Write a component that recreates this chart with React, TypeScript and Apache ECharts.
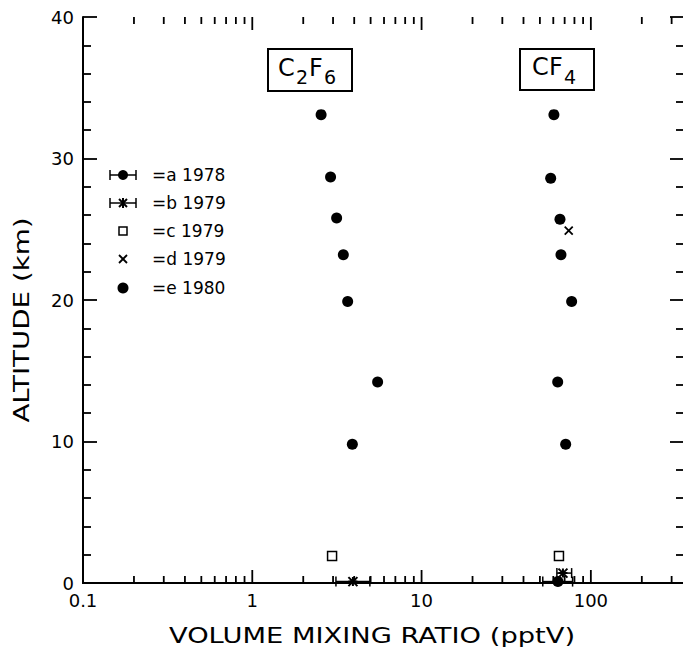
import React, { useEffect, useRef } from "react";
import * as echarts from "echarts";

// ---- axis ticks ----
const X_TICKS = [0.1, 1, 10, 100];
const X_TICK_LABELS = ["0.1", "1", "10", "100"];
const X_MINOR_TICKS = [
  0.2, 0.3, 0.4, 0.5, 0.6, 0.7, 0.8, 0.9,
  2, 3, 4, 5, 6, 7, 8, 9,
  20, 30, 40, 50, 60, 70, 80, 90,
  200, 300,
];

// ---- e = 1980 (filled dots) ----
const E_C2F6_VMR = [2.55, 2.9, 3.15, 3.45, 3.66, 5.5, 3.9];
const E_C2F6_ALT = [33.1, 28.7, 25.8, 23.2, 19.9, 14.2, 9.8];
const E_CF4_VMR = [60.5, 57.9, 65.7, 66.6, 77.0, 63.7, 71.0];
const E_CF4_ALT = [33.1, 28.6, 25.7, 23.2, 19.9, 14.2, 9.8];

// ---- d = 1979 (x) ----
const D_VMR = [74];
const D_ALT = [24.9];

// ---- c = 1979 (open squares) ----
const C_VMR = [2.96, 64.8];
const C_ALT = [1.9, 1.9];

// ---- b = 1979 (asterisk with range) ----
const B_VMR = [3.93, 68.4];
const B_ALT = [0.1, 0.7];
const B_LO = [3.12, 63];
const B_HI = [4.95, 77];

// ---- a = 1978 (dot with range) ----
const A_VMR = [63.9];
const A_ALT = [0.1];
const A_LO = [52];
const A_HI = [78];

const FONT = "DejaVu Sans";
const INK = "#000";
const Y_MIN = 0;
const Y_MAX = 40;

const CROSS = "path://M0,0L10,10M10,0L0,10";
const STAR = "path://M0,0L10,10M10,0L0,10M5,0L5,10M0,5L10,5";

function pairs(xs: number[], ys: number[]) {
  return xs.map((x, i) => [x, ys[i]]);
}

function errorBarItem(params: any, api: any) {
  const alt = api.value(1);
  const p = api.coord([api.value(2), alt]);
  const q = api.coord([api.value(3), alt]);
  const st = { stroke: INK, lineWidth: 1.5 };
  const h = 5;
  return {
    type: "group",
    children: [
      { type: "line", shape: { x1: p[0], y1: p[1], x2: q[0], y2: q[1] }, style: st },
      { type: "line", shape: { x1: p[0], y1: p[1] - h, x2: p[0], y2: p[1] + h }, style: st },
      { type: "line", shape: { x1: q[0], y1: q[1] - h, x2: q[0], y2: q[1] + h }, style: st },
    ],
  };
}

function tickRenderer(len: number, width: number) {
  return (params: any, api: any) => {
    const v = api.value(0);
    const b = api.coord([v, Y_MIN]);
    const t = api.coord([v, Y_MAX]);
    const st = { stroke: INK, lineWidth: width };
    return {
      type: "group",
      children: [
        { type: "line", shape: { x1: b[0], y1: b[1], x2: b[0], y2: b[1] - len }, style: st },
        { type: "line", shape: { x1: t[0], y1: t[1], x2: t[0], y2: t[1] + len }, style: st },
      ],
    };
  };
}

function xLabel(v: number) {
  for (let i = 0; i < X_TICKS.length; i++) {
    if (Math.abs(v - X_TICKS[i]) / X_TICKS[i] < 1e-6) return X_TICK_LABELS[i];
  }
  return "";
}

function legendRow(y: number, label: string, symbol: any[]) {
  return [
    ...symbol,
    {
      type: "text",
      x: 152,
      y,
      style: { text: label, font: `17px '${FONT}'`, fill: INK, verticalAlign: "middle", align: "left" },
    },
  ];
}

export default function App() {
  const ref = useRef<HTMLDivElement>(null);
  useEffect(() => {
    if (!ref.current) return;
    const chart = echarts.init(ref.current, undefined, { renderer: "svg" });
    const ln = { stroke: INK, lineWidth: 1.5 };
    const sx = 123;
    const rows = [175, 203, 231, 259, 288];
    const legend = [
      ...legendRow(rows[0], "=a 1978", [
        { type: "line", shape: { x1: sx - 13, y1: rows[0], x2: sx + 13, y2: rows[0] }, style: ln },
        { type: "line", shape: { x1: sx - 13, y1: rows[0] - 5, x2: sx - 13, y2: rows[0] + 5 }, style: ln },
        { type: "line", shape: { x1: sx + 13, y1: rows[0] - 5, x2: sx + 13, y2: rows[0] + 5 }, style: ln },
        { type: "circle", shape: { cx: sx, cy: rows[0], r: 5 }, style: { fill: INK } },
      ]),
      ...legendRow(rows[1], "=b 1979", [
        { type: "line", shape: { x1: sx - 13, y1: rows[1], x2: sx + 13, y2: rows[1] }, style: ln },
        { type: "line", shape: { x1: sx - 13, y1: rows[1] - 5, x2: sx - 13, y2: rows[1] + 5 }, style: ln },
        { type: "line", shape: { x1: sx + 13, y1: rows[1] - 5, x2: sx + 13, y2: rows[1] + 5 }, style: ln },
        { type: "line", shape: { x1: sx - 4, y1: rows[1] - 4, x2: sx + 4, y2: rows[1] + 4 }, style: { stroke: INK, lineWidth: 2 } },
        { type: "line", shape: { x1: sx + 4, y1: rows[1] - 4, x2: sx - 4, y2: rows[1] + 4 }, style: { stroke: INK, lineWidth: 2 } },
        { type: "line", shape: { x1: sx, y1: rows[1] - 5, x2: sx, y2: rows[1] + 5 }, style: { stroke: INK, lineWidth: 2 } },
      ]),
      ...legendRow(rows[2], "=c 1979", [
        { type: "rect", shape: { x: sx - 4, y: rows[2] - 4, width: 8, height: 8 }, style: { fill: "#fff", stroke: INK, lineWidth: 1.5 } },
      ]),
      ...legendRow(rows[3], "=d 1979", [
        { type: "line", shape: { x1: sx - 4, y1: rows[3] - 4, x2: sx + 4, y2: rows[3] + 4 }, style: { stroke: INK, lineWidth: 1.8 } },
        { type: "line", shape: { x1: sx + 4, y1: rows[3] - 4, x2: sx - 4, y2: rows[3] + 4 }, style: { stroke: INK, lineWidth: 1.8 } },
      ]),
      ...legendRow(rows[4], "=e 1980", [
        { type: "circle", shape: { cx: sx, cy: rows[4], r: 5.5 }, style: { fill: INK } },
      ]),
    ];

    const boxStyle = { fill: "#fff", stroke: INK, lineWidth: 2 };
    const big = `24px '${FONT}'`;
    const small = `19px '${FONT}'`;
    const t = (x: number, y: number, text: string, font: string) => ({
      type: "text",
      x,
      y,
      style: { text, font, fill: INK, align: "left", verticalAlign: "middle" },
    });
    const labels = [
      { type: "rect", shape: { x: 268, y: 49, width: 84, height: 42 }, style: boxStyle },
      t(278, 68, "C", big),
      t(296, 77, "2", small),
      t(309, 68, "F", big),
      t(324, 77, "6", small),
      { type: "rect", shape: { x: 520, y: 49, width: 74, height: 41 }, style: boxStyle },
      t(532, 67, "C", big),
      t(549, 67, "F", big),
      t(564, 77, "4", small),
    ];

    const names = [
      {
        type: "text",
        x: 372,
        y: 636,
        scaleX: 1.3,
        style: { text: "VOLUME MIXING RATIO (pptV)", font: `21px '${FONT}'`, fill: INK, align: "center", verticalAlign: "middle" },
      },
      {
        type: "text",
        x: 22,
        y: 320,
        rotation: Math.PI / 2,
        scaleX: 1.32,
        style: { text: "ALTITUDE (km)", font: `21px '${FONT}'`, fill: INK, align: "center", verticalAlign: "middle" },
      },
    ];

    const axisLine = { show: true, lineStyle: { color: INK, width: 2 } };
    const xCommon = {
      type: "log",
      logBase: 10,
      min: 0.1,
      max: 355,
      axisLine,
      splitLine: { show: false },
      axisTick: { show: false },
    };
    const yCommon = {
      type: "value",
      min: Y_MIN,
      max: Y_MAX,
      interval: 10,
      axisLine,
      splitLine: { show: false },
      axisTick: { show: true, inside: true, length: 14, lineStyle: { color: INK, width: 1.8 } },
      minorTick: { show: true, splitNumber: 5, length: 8, lineStyle: { color: INK, width: 1.8 } },
    };

    chart.setOption({
      animation: false,
      backgroundColor: "#fff",
      grid: { left: 83, top: 17, width: 601, height: 566, containLabel: false, outerBoundsMode: "none" },
      xAxis: [
        {
          ...xCommon,
          position: "bottom",
          axisLabel: {
            show: true,
            formatter: (v: number) => xLabel(v),
            color: INK,
            fontFamily: FONT,
            fontSize: 18,
            margin: 8,
            showMaxLabel: false,
          },
        },
        { ...xCommon, position: "top", axisLabel: { show: false } },
      ],
      yAxis: [
        {
          ...yCommon,
          position: "left",
          axisLabel: { show: true, color: INK, fontFamily: FONT, fontSize: 18, margin: 9 },
        },
        { ...yCommon, position: "right", axisLabel: { show: false } },
      ],
      graphic: [...legend, ...labels, ...names],
      series: [
        {
          type: "custom",
          name: "major x ticks",
          silent: true,
          clip: false,
          renderItem: tickRenderer(13, 1.8),
          data: X_TICKS.map((v) => [v, Y_MIN]),
          encode: { x: 0, y: 1 },
          z: 1,
        },
        {
          type: "custom",
          name: "minor x ticks",
          silent: true,
          clip: false,
          renderItem: tickRenderer(7, 1.8),
          data: X_MINOR_TICKS.map((v) => [v, Y_MIN]),
          encode: { x: 0, y: 1 },
          z: 1,
        },
        {
          type: "custom",
          name: "b range",
          silent: true,
          clip: false,
          renderItem: errorBarItem,
          data: B_VMR.map((v, i) => [v, B_ALT[i], B_LO[i], B_HI[i]]),
          encode: { x: 0, y: 1 },
          z: 3,
        },
        {
          type: "custom",
          name: "a range",
          silent: true,
          clip: false,
          renderItem: errorBarItem,
          data: A_VMR.map((v, i) => [v, A_ALT[i], A_LO[i], A_HI[i]]),
          encode: { x: 0, y: 1 },
          z: 3,
        },
        {
          type: "scatter",
          name: "a 1978",
          symbol: "circle",
          symbolSize: 11,
          itemStyle: { color: INK, opacity: 1 },
          data: pairs(A_VMR, A_ALT),
          clip: false,
          z: 4,
        },
        {
          type: "scatter",
          name: "b 1979",
          symbol: STAR,
          symbolSize: 9,
          itemStyle: { color: "none", borderColor: INK, borderWidth: 2, opacity: 1 },
          data: pairs(B_VMR, B_ALT),
          clip: false,
          z: 4,
        },
        {
          type: "scatter",
          name: "c 1979",
          symbol: "rect",
          symbolSize: 9,
          itemStyle: { color: "#fff", borderColor: INK, borderWidth: 1.5, opacity: 1 },
          data: pairs(C_VMR, C_ALT),
          clip: false,
          z: 4,
        },
        {
          type: "scatter",
          name: "d 1979",
          symbol: CROSS,
          symbolSize: 8,
          itemStyle: { color: "none", borderColor: INK, borderWidth: 1.8, opacity: 1 },
          data: pairs(D_VMR, D_ALT),
          clip: false,
          z: 4,
        },
        {
          type: "scatter",
          name: "e 1980",
          symbol: "circle",
          symbolSize: 11,
          itemStyle: { color: INK, opacity: 1 },
          data: [...pairs(E_C2F6_VMR, E_C2F6_ALT), ...pairs(E_CF4_VMR, E_CF4_ALT)],
          clip: false,
          z: 4,
        },
      ],
    } as any);
    return () => chart.dispose();
  }, []);
  return <div ref={ref} style={{ position: "absolute", left: 0, top: 0, width: 683, height: 648 }} />;
}
